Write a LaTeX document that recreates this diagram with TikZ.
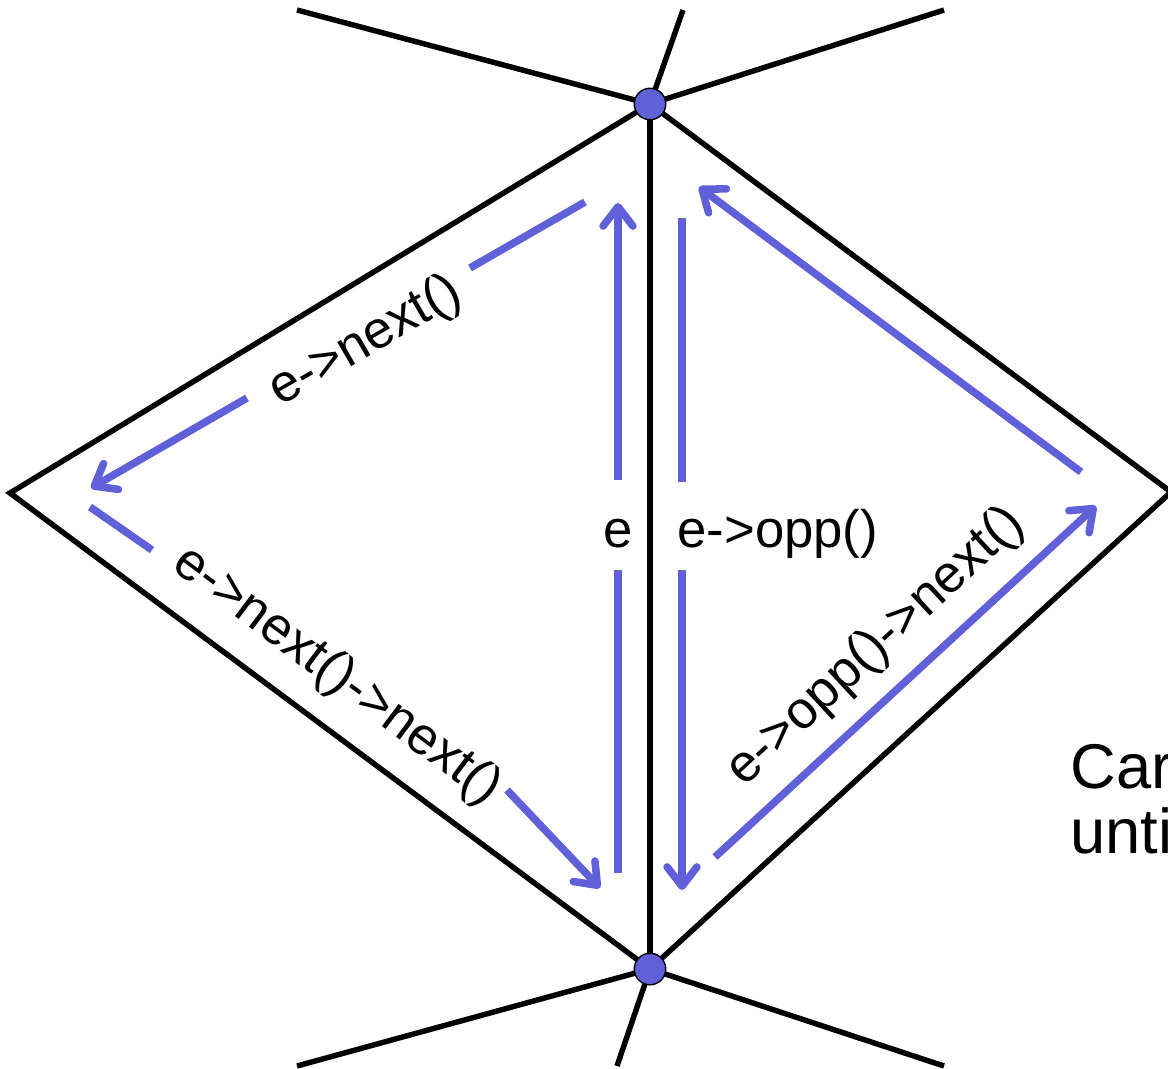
\documentclass[tikz,border=0pt]{standalone}
\usepackage{fontspec}
\setmainfont{Liberation Sans}
\usetikzlibrary{arrows.meta}
\definecolor{hecolor}{RGB}{96,96,216}
\tikzset{
  meshln/.style={line width=3.1pt, black},
  heln/.style={line width=4.3pt, hecolor},
  hearr/.style={heln, -{Straight Barb[length=11pt,width=17pt,line cap=round,line join=round]}},
  vdot/.style={circle, fill=hecolor, draw=black, line width=0.8pt, minimum size=0.63cm, inner sep=0pt},
  helbl/.style={font=\fontsize{30}{36}\selectfont, inner sep=0pt},
  notelbl/.style={font=\fontsize{36}{44}\selectfont, inner sep=0pt, anchor=base west},
}

\begin{document}
\begin{tikzpicture}[x=0.02cm, y=-0.02cm]
    \useasboundingbox (0,0) rectangle (1168,1068);
    \clip (0,0) rectangle (1168,1068);
    % mesh vertices and spoke ends
    \coordinate (vt) at (650,104);
    \coordinate (vb) at (650,969);
    \coordinate (vl) at (10,493);
    \coordinate (vr) at (1171,492);
    \coordinate (st1) at (297,10);
    \coordinate (st2) at (683,10);
    \coordinate (st3) at (944,10);
    \coordinate (sb1) at (297,1066);
    \coordinate (sb2) at (617,1066);
    \coordinate (sb3) at (944,1066);
    % mesh edges
    \draw[meshln] (vt) -- (vl) -- (vb) -- (vr) -- cycle;
    \draw[meshln] (vt) -- (vb);
    \draw[meshln] (vt) -- (st1) (vt) -- (st2) (vt) -- (st3);
    \draw[meshln] (vb) -- (sb1) (vb) -- (sb2) (vb) -- (sb3);
    \node[vdot] (dt) at (vt) {};
    \node[vdot] (db) at (vb) {};
    % half edge e
    \coordinate (e0) at (618,873);
    \coordinate (e1) at (618,570);
    \coordinate (e2) at (618,480);
    \coordinate (e3) at (618,203);
    \draw[heln] (e0) -- (e1);
    \draw[hearr] (e2) -- (e3);
    \node[helbl, anchor=base] (le) at (618,547) {e};
    % e->opp()
    \coordinate (o0) at (682,218);
    \coordinate (o1) at (682,482);
    \coordinate (o2) at (682,570);
    \coordinate (o3) at (682,890);
    \draw[heln] (o0) -- (o1);
    \draw[hearr] (o2) -- (o3);
    \node[helbl, anchor=base west] (lo) at (677,547) {e->opp()};
    % e->next()
    \coordinate (n0) at (585,202);
    \coordinate (n1) at (470,268);
    \coordinate (n2) at (247,398);
    \coordinate (n3) at (91,488);
    \draw[heln] (n0) -- (n1);
    \draw[hearr] (n2) -- (n3);
    \node[helbl, rotate=30] (ln) at (366,342) {e->next()};
    % e->next()->next()
    \coordinate (m0) at (90,507);
    \coordinate (m1) at (152,550);
    \coordinate (m2) at (507,790);
    \coordinate (m3) at (600,888);
    \draw[heln] (m0) -- (m1);
    \draw[hearr] (m2) -- (m3);
    \node[helbl, rotate=-36.9] (lm) at (337,676) {e->next()->next()};
    % e->opp()->next() and the way back up
    \coordinate (p0) at (715,857);
    \coordinate (p1) at (1096,506);
    \coordinate (q0) at (1081,472);
    \coordinate (q1) at (699,187);
    \draw[hearr] (p0) -- (p1);
    \draw[hearr] (q0) -- (q1);
    \node[helbl, rotate=42.8] (lp) at (876,647) {e->opp()->next()};
    % side note, cut off at the border
    \node[notelbl] (car) at (1070,788) {Car};
    \node[notelbl] (unti) at (1070,853) {unti};
\end{tikzpicture}
\end{document}
